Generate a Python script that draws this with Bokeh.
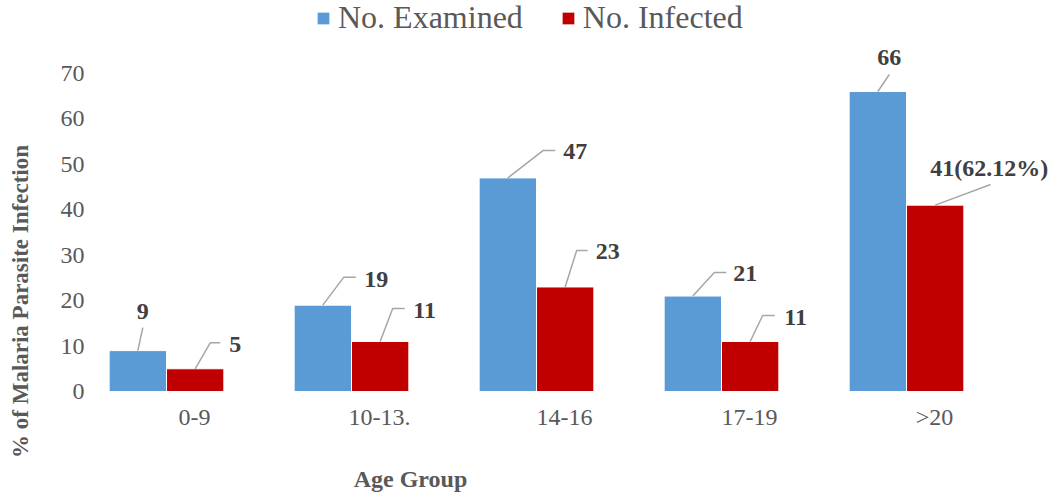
from bokeh.plotting import figure
from bokeh.models import Range1d, FixedTicker, Legend, LegendItem, Label, ColumnDataSource
from bokeh.core.properties import value
from bokeh.embed import file_html
from bokeh.resources import INLINE
import math

# ---------------- data ----------------
categories = ["0-9", "10-13.", "14-16", "17-19", ">20"]
examined = [9, 19, 47, 21, 66]
infected = [5, 11, 23, 11, 41]
examined_labels = ["9", "19", "47", "21", "66"]
infected_labels = ["5", "11", "23", "11", "41(62.12%)"]
y_ticks = [0, 10, 20, 30, 40, 50, 60, 70]

# ---------------- layout ----------------
W, H = 1052, 495
PX = 185.0          # pixels per category
PY = 4.545          # pixels per unit of value
ORIGIN_X = 166.0    # pixel of first category centre
ORIGIN_Y = 391.0    # pixel (from top) of value 0
X0, X1 = -ORIGIN_X / PX, (W - ORIGIN_X) / PX
Y0, Y1 = -(H - ORIGIN_Y) / PY, ORIGIN_Y / PY
BAR_W = 0.31
LABEL_SHIFT = 0.151
YAXIS_X = (100 - ORIGIN_X) / PX

BLUE = "#5B9BD5"
RED = "#C00000"
GREY_TXT = "#595959"
LBL_TXT = "#404040"
LEADER = "#A6A6A6"
FONT = "Liberation Serif"

# callout geometry in pixels relative to bar-top centre: (knee dx, knee dy, end dx, end dy, label dx, label dy)
ex_call = [(5, 23, 5, 23, 5, 39),
           (21, 28, 33, 28, 53.5, 26),
           (35.5, 27.5, 47.5, 27.5, 67.5, 26.5),
           (21.5, 23.6, 33.5, 23.6, 52.5, 22.6),
           (11.5, 17, 11.5, 17, 11.5, 34)]
in_call = [(15, 26, 25, 26, 40, 24),
           (12.5, 33, 24.5, 33, 44.5, 31),
           (11.5, 36.5, 22.5, 36.5, 42.5, 35.5),
           (12.5, 26, 24.5, 26, 45.5, 24),
           (55.5, 20.7, 55.5, 20.7, 54, 36.7)]

p = figure(width=W, height=H, output_backend="svg", toolbar_location=None, tools="",
           x_range=Range1d(X0, X1), y_range=Range1d(Y0, Y1), min_border=0)
p.outline_line_color = None
p.xgrid.visible = False
p.ygrid.visible = False
p.background_fill_color = "white"
p.border_fill_color = "white"

idx = list(range(len(categories)))
xb = [i - BAR_W / 2 for i in idx]
xr = [i + BAR_W / 2 for i in idx]

src_b = ColumnDataSource(dict(x=xb, top=examined))
src_r = ColumnDataSource(dict(x=xr, top=infected))

rb = p.vbar(x="x", top="top", bottom=0, width=BAR_W, source=src_b,
            fill_color=BLUE, line_color="white", line_width=1)
rr = p.vbar(x="x", top="top", bottom=0, width=BAR_W, source=src_r,
            fill_color=RED, line_color="white", line_width=1)


def callouts(xs, vals, geo):
    lx, ly = [], []
    for x, v, g in zip(xs, vals, geo):
        kx, ky, ex, ey, _, _ = g
        lx.append([x, x + kx / PX, x + ex / PX])
        ly.append([v, v + ky / PY, v + ey / PY])
    return lx, ly


for xs, vals, geo, labs in ((xb, examined, ex_call, examined_labels),
                            (xr, infected, in_call, infected_labels)):
    mx, my = callouts(xs, vals, geo)
    p.multi_line(xs=mx, ys=my, line_color=LEADER, line_width=1.5)
    p.text(x=xs, y=vals, text=labs,
           x_offset=[g[4] for g in geo], y_offset=[-g[5] for g in geo],
           text_font=value(FONT), text_font_style="bold", text_font_size="24px",
           text_color=LBL_TXT, text_align="center", text_baseline="middle")

# axes (drawn inside the frame at fixed positions)
xticks = [i + LABEL_SHIFT for i in idx]
p.xaxis.ticker = FixedTicker(ticks=xticks)
p.xaxis.major_label_overrides = {t: c for t, c in zip(xticks, categories)}
p.xaxis.fixed_location = 0
p.yaxis.ticker = FixedTicker(ticks=y_ticks)
p.yaxis.fixed_location = YAXIS_X
for ax in (p.xaxis[0], p.yaxis[0]):
    ax.axis_line_color = None
    ax.major_tick_line_color = None
    ax.minor_tick_line_color = None
    ax.major_tick_out = 0
    ax.major_tick_in = 0
    ax.minor_tick_out = 0
    ax.minor_tick_in = 0
    ax.major_label_text_font = FONT
    ax.major_label_text_font_size = "24px"
    ax.major_label_text_color = GREY_TXT
p.xaxis.major_label_standoff = 12
p.yaxis.major_label_standoff = 16

# axis titles
p.add_layout(Label(x=20, y=H - 301, x_units="screen", y_units="screen",
                   text="% of Malaria Parasite Infection", angle=math.pi / 2,
                   text_font=FONT, text_font_style="bold", text_font_size="23px",
                   text_color=GREY_TXT, text_align="center", text_baseline="middle"))
p.add_layout(Label(x=410, y=H - 478, x_units="screen", y_units="screen",
                   text="Age Group",
                   text_font=FONT, text_font_style="bold", text_font_size="24px",
                   text_color=GREY_TXT, text_align="center", text_baseline="middle"))

legend = Legend(items=[LegendItem(label="No. Examined", renderers=[rb]),
                       LegendItem(label="No. Infected", renderers=[rr])],
                orientation="horizontal", location=(315, H - 36),
                padding=0, margin=0, spacing=37, label_standoff=7,
                glyph_width=16, glyph_height=16,
                label_text_font=FONT, label_text_font_size="32px",
                label_text_color=GREY_TXT,
                border_line_color=None, background_fill_alpha=0)
p.add_layout(legend)

open("out.html", "w").write(file_html(p, INLINE))
